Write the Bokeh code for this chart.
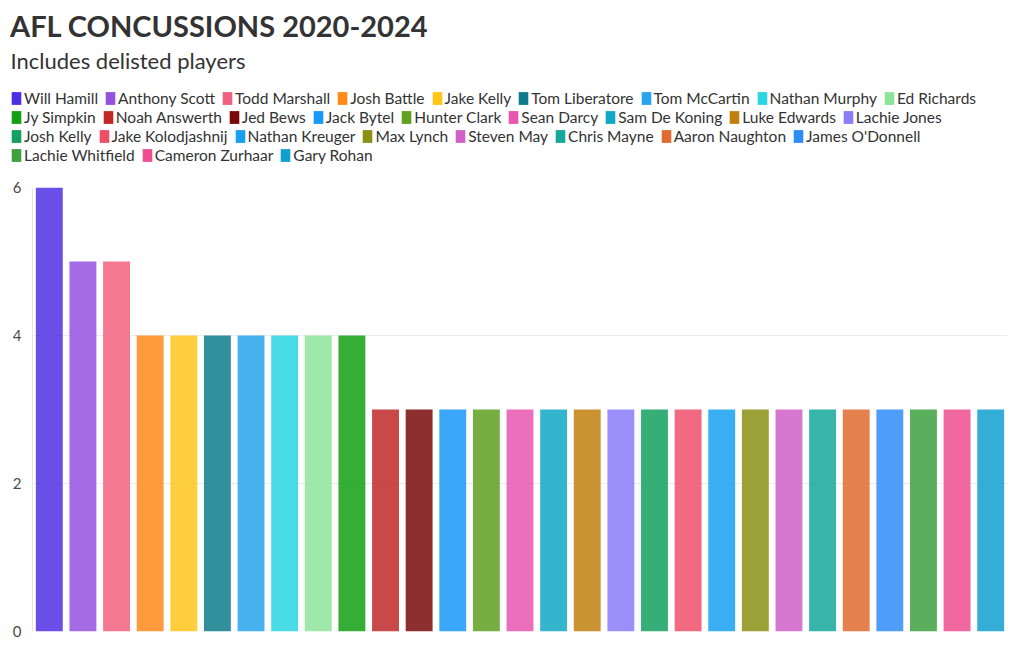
from bokeh.plotting import figure
from bokeh.models import (ColumnDataSource, FactorRange, Range1d, Legend, LegendItem,
                          Label, SingleIntervalTicker)
from bokeh.embed import file_html
from bokeh.resources import INLINE

# ---------------- data ----------------
title_text = "AFL CONCUSSIONS 2020-2024"
subtitle_text = "Includes delisted players"

players = [
    "Will Hamill", "Anthony Scott", "Todd Marshall", "Josh Battle", "Jake Kelly",
    "Tom Liberatore", "Tom McCartin", "Nathan Murphy", "Ed Richards", "Jy Simpkin",
    "Noah Answerth", "Jed Bews", "Jack Bytel", "Hunter Clark", "Sean Darcy",
    "Sam De Koning", "Luke Edwards", "Lachie Jones", "Josh Kelly", "Jake Kolodjashnij",
    "Nathan Kreuger", "Max Lynch", "Steven May", "Chris Mayne", "Aaron Naughton",
    "James O'Donnell", "Lachie Whitfield", "Cameron Zurhaar", "Gary Rohan",
]
concussions = [6, 5, 5, 4, 4, 4, 4, 4, 4, 4,
               3, 3, 3, 3, 3, 3, 3, 3, 3, 3,
               3, 3, 3, 3, 3, 3, 3, 3, 3]
y_max = 6
y_tick_step = 2

# ---------------- styles ----------------
colors = [
    "#4f2fe3", "#9550e0", "#f2607f", "#ff8a1a", "#ffc61a",
    "#0e7c8c", "#28a4ee", "#2ad6e2", "#8de59a", "#12a012",
    "#c02828", "#7a0a0a", "#1898f8", "#5ea020", "#e856b0",
    "#10a8c4", "#c08010", "#8a7cfa", "#14a060", "#ee5068",
    "#18a0f0", "#8a9014", "#d060c8", "#14a89c", "#e06a30",
    "#2e8cf8", "#3ea03e", "#ee4e90", "#10a0d0",
]
row_counts = [9, 9, 8, 3]
FONT = "Lato"
TEXT = "#333333"

W = 1016
HEADER_H = 179
CHART_H = 467

source = ColumnDataSource(dict(player=players, value=concussions, color=colors,
                               idx=list(range(len(players))),
                               zero=[0] * len(players)))

# ---------------- header: title, subtitle, legend ----------------
header = figure(width=W, height=HEADER_H, x_range=Range1d(0, W), y_range=Range1d(HEADER_H, 0),
                x_axis_type=None, y_axis_type=None, toolbar_location=None,
                title_location=None, output_backend="svg",
                min_border_left=0, min_border_right=0, min_border_top=0, min_border_bottom=0,
                outline_line_color=None)
header.grid.visible = False

header.add_layout(Label(x=9.5, y=24.5, text=title_text, text_font=FONT, text_font_style="bold",
                        text_font_size="29px", text_color=TEXT, text_baseline="alphabetic"))
header.add_layout(Label(x=10, y=60, text=subtitle_text, text_font=FONT,
                        text_font_size="22px", text_color=TEXT, text_baseline="alphabetic"))

swatch = header.vbar(x="idx", top="zero", bottom="zero", width=0, source=source,
                     fill_color="color", line_color=None)

row_h = 19
row_centers = [98, 117, 136, 155]
start = 0
for r, n in enumerate(row_counts):
    items = [LegendItem(label=players[i], renderers=[swatch], index=i)
             for i in range(start, start + n)]
    start += n
    leg = Legend(items=items, orientation="horizontal",
                 location=(10, HEADER_H - (row_centers[r] + row_h / 2)),
                 padding=0, margin=0, spacing=6, label_standoff=2,
                 glyph_width=12, glyph_height=16, label_height=row_h,
                 label_text_font=FONT, label_text_font_size="15.5px",
                 label_text_color=TEXT, label_text_baseline="middle",
                 background_fill_alpha=0, border_line_color=None)
    header.add_layout(leg)

# ---------------- chart ----------------
p = figure(width=W, height=CHART_H, x_range=FactorRange(*players, range_padding=0),
           y_range=Range1d(0, y_max), toolbar_location=None, output_backend="svg",
           title_location=None,
           min_border_left=32, min_border_right=9, min_border_top=8, min_border_bottom=15,
           outline_line_color=None)
p.vbar(x="player", top="value", width=0.8, source=source,
       fill_color="color", fill_alpha=0.85, line_color=None)

p.xaxis.visible = False
p.xgrid.visible = False
p.ygrid.grid_line_color = "#ececec"
p.ygrid.ticker = SingleIntervalTicker(interval=y_tick_step)
p.yaxis.ticker = SingleIntervalTicker(interval=y_tick_step)
p.yaxis.axis_line_color = "#e6e6e6"
p.yaxis.major_tick_line_color = None
p.yaxis.minor_tick_line_color = None
p.yaxis.major_tick_out = 0
p.yaxis.major_label_standoff = 7
p.yaxis.major_label_text_font = FONT
p.yaxis.major_label_text_font_size = "15px"
p.yaxis.major_label_text_color = "#4a4a4a"

open("out.html", "w").write(file_html([header, p], INLINE))
